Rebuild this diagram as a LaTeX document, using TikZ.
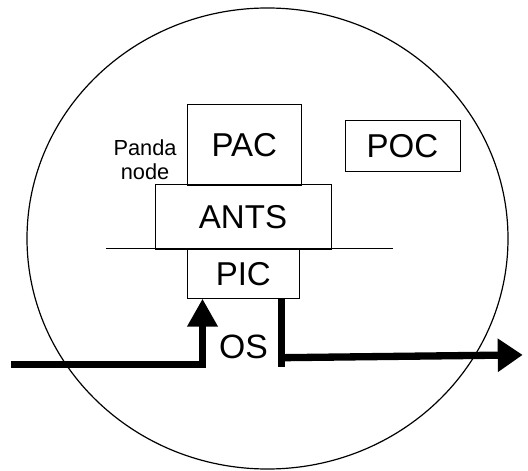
\documentclass[tikz,border=0pt]{standalone}
\usepackage{fontspec}
\setmainfont{Liberation Sans}
\usepackage{tikz}
\usetikzlibrary{arrows.meta,positioning,calc}

\begin{document}
\begin{tikzpicture}[
  box/.style={draw=black,line width=0.6pt,inner sep=0pt,font=\fontsize{23.5}{27}\selectfont},
  flow/.style={line width=5.2pt}]
\useasboundingbox (-6.6875,-5.7875) rectangle (6.5125,5.9625);
\draw[line width=0.85pt] (0,0) ellipse (6.0125 and 5.7625);
\node[box,minimum width=2.85cm,minimum height=2.035cm] (PAC) at (-0.58,2.3375) {PAC};
\node[box,minimum width=2.875cm,minimum height=1.2575cm] (POC) at (3.375,2.316) {POC};
\node[box,minimum width=4.4cm,minimum height=1.62cm] (ANTS) at (-0.6125,0.546) {ANTS};
\node[box,minimum width=2.8cm,minimum height=1.23cm] (PIC) at (-0.605,-0.879) {PIC};
\node[align=center,font=\fontsize{15.5}{17}\selectfont] (panda) at (-3.06,1.98) {Panda\\node};
\node[font=\fontsize{24}{27}\selectfont] (OS) at (-0.6,-2.7) {OS};
% ---- layer line ----
\draw[line width=0.6pt] (-4.0375,-0.2375) -- (3.1375,-0.2375);
% ---- arrows in and out of PIC ----
\coordinate (in) at (-6.4125,-3.155);
\coordinate (down) at (0.355,-3.205);
\coordinate (turn) at (0.355,-2.98);
\coordinate (out) at (6.38,-2.91);
\draw[flow,-{Triangle[length=0.7cm,width=0.725cm]}] (in) -| (PIC.south -| -1.625,0);
\draw[flow] (PIC.south -| down) -- (down);
\draw[flow,-{Triangle[length=0.625cm,width=0.8cm]}] (turn) -- (out);
\end{tikzpicture}
\end{document}
